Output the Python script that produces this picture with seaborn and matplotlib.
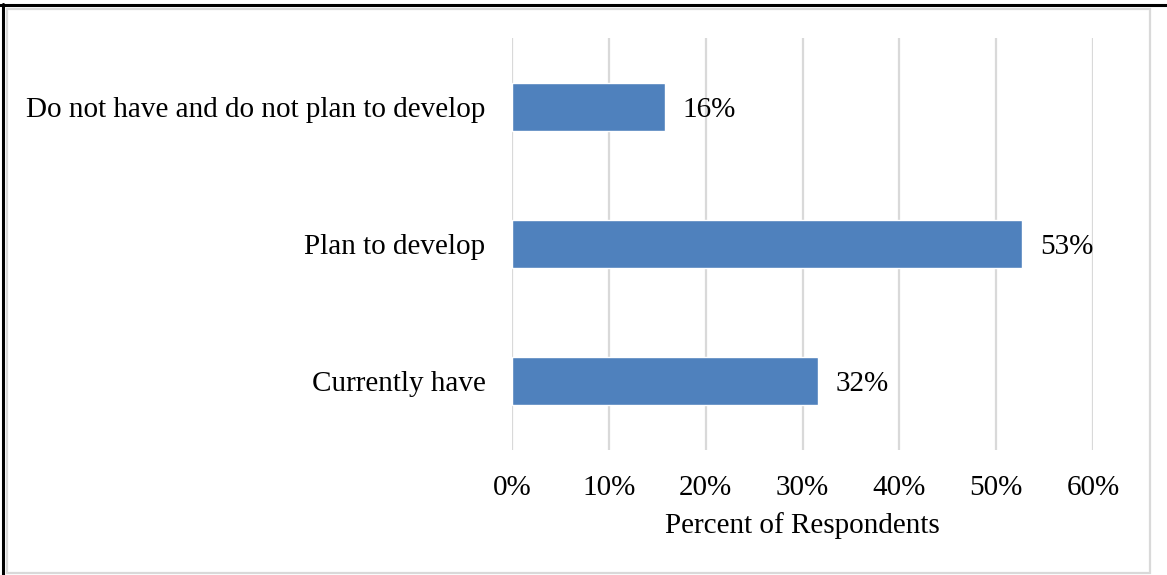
import matplotlib
matplotlib.use("Agg")
import matplotlib.pyplot as plt
from matplotlib.lines import Line2D
from matplotlib.patches import Rectangle
import seaborn as sns
import pandas as pd

# Survey responses
categories = ["Do not have and do not plan to develop", "Plan to develop", "Currently have"]
percent = [15.8, 52.7, 31.6]
tick_values = [0, 10, 20, 30, 40, 50, 60]
tick_labels = ["0%", "10%", "20%", "30%", "40%", "50%", "60%"]

df = pd.DataFrame({"category": categories, "percent": percent})

sns.set_theme(style="white")
plt.rcParams["font.family"] = ["Liberation Serif", "DejaVu Serif"]
plt.rcParams["text.color"] = "black"
plt.rcParams["xtick.color"] = "black"
plt.rcParams["ytick.color"] = "black"
plt.rcParams["axes.labelcolor"] = "black"

FS = 21
W, H, DPI = 1167, 575, 100
fig = plt.figure(figsize=(W / DPI, H / DPI), dpi=DPI)
ax = fig.add_axes([512 / W, 1 - 450 / H, (1093 - 512) / W, (450 - 38) / H])

sns.barplot(data=df, x="percent", y="category", orient="h", color="#4f81bd",
            width=0.35, ax=ax, saturation=1, zorder=3)

ax.set_xlim(0, 60)
ax.set_ylim(2.5, -0.5)
ax.set_xticks(tick_values)
ax.set_xticklabels(tick_labels, fontsize=FS)
ax.tick_params(axis="y", labelsize=FS, length=0, pad=19)
ax.tick_params(axis="x", length=0, pad=18)
ax.xaxis.grid(True, color="#d9d9d9", linewidth=1.6, zorder=0)
ax.set_axisbelow(True)
for s in ax.spines.values():
    s.set_visible(False)
ax.set_ylabel("")
ax.set_xlabel("Percent of Respondents", fontsize=FS, labelpad=8)

for i, v in enumerate(percent):
    ax.text(v + 1.8, i, f"{v:.0f}%", va="center_baseline", ha="left",
            fontsize=FS, color="black")

# Frame around the figure
fig.patches.append(Rectangle((7 / W, 1 - 573 / H), (1150 - 7) / W, (573 - 9) / H,
                             transform=fig.transFigure, fill=False,
                             edgecolor="#d9d9d9", linewidth=1.6))
fig.lines.append(Line2D([0, 1], [1 - 5 / H, 1 - 5 / H], transform=fig.transFigure,
                        color="black", linewidth=2.2))
fig.lines.append(Line2D([3 / W, 3 / W], [0, 1 - 4 / H], transform=fig.transFigure,
                        color="black", linewidth=2.2))

fig.savefig("out.png", dpi=DPI, facecolor="white")
